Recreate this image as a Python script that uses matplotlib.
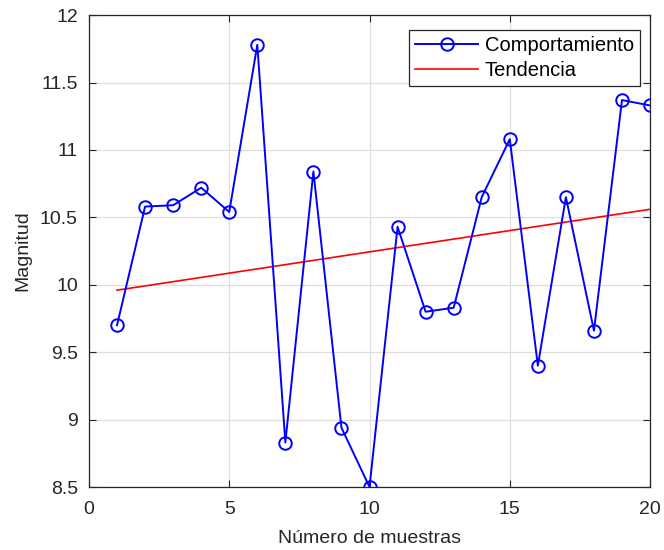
import matplotlib
matplotlib.use("Agg")
import matplotlib.pyplot as plt
import numpy as np

# muestras y magnitudes
muestras = np.arange(1, 21)
magnitud = [9.70, 10.58, 10.59, 10.72, 10.54, 11.78, 8.83, 10.84, 8.94, 8.50,
            10.43, 9.80, 9.83, 10.65, 11.08, 9.40, 10.65, 9.66, 11.37, 11.33]
tend_x = [1, 20]
tend_y = [9.96, 10.56]

xticks = [0, 5, 10, 15, 20]
yticks = [8.5, 9, 9.5, 10, 10.5, 11, 11.5, 12]
yticklabels = ["8.5", "9", "9.5", "10", "10.5", "11", "11.5", "12"]

plt.rcParams['font.family'] = ['Liberation Sans', 'DejaVu Sans']
plt.rcParams['font.size'] = 14

fig = plt.figure(figsize=(6.64, 5.5), dpi=100)
ax = fig.add_axes([0.134, 0.1145, 0.845, 0.858])

ax.plot(muestras, magnitud, color='#0000ff', linewidth=1.4, marker='o',
        markersize=9, markerfacecolor='none', markeredgewidth=1.4,
        label='Comportamiento', zorder=3)
ax.plot(tend_x, tend_y, color='#ff0000', linewidth=1.2, label='Tendencia', zorder=2)

ax.set_xlim(0, 20)
ax.set_ylim(8.5, 12)
ax.set_xticks(xticks)
ax.set_yticks(yticks)
ax.set_yticklabels(yticklabels)
ax.grid(True, color='#dedede', linewidth=0.9)
ax.set_axisbelow(True)
ax.tick_params(direction='in', top=True, right=True, length=5, width=0.8,
               colors='#262626', labelsize=14, labelcolor='#262626')
ax.tick_params(axis='y', pad=8)
ax.tick_params(axis='x', pad=10)
for s in ax.spines.values():
    s.set_color('#262626')
    s.set_linewidth(0.9)

ax.set_xlabel('Número de muestras', fontsize=14, color='#262626', labelpad=9)
ax.set_ylabel('Magnitud', fontsize=14, color='#262626', labelpad=6)

leg = ax.legend(loc='upper right', bbox_to_anchor=(0.982, 0.968), fancybox=False,
                edgecolor='#262626', fontsize=14.5, borderpad=0.3,
                handlelength=3.1, labelspacing=0.3, handletextpad=0.35,
                borderaxespad=0.0, framealpha=1)
leg.get_frame().set_linewidth(0.9)

fig.savefig('out.png', dpi=100)
